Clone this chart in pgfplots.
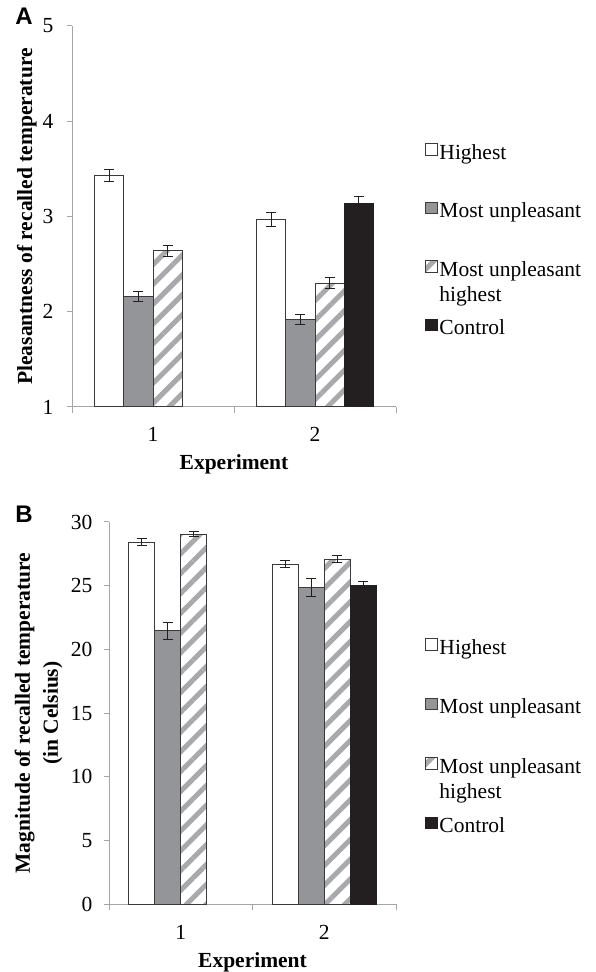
\documentclass[border=0pt]{standalone}
\usepackage{pgfplots}
\pgfplotsset{compat=1.18}
\usetikzlibrary{patterns.meta}
\usepackage{fontspec}
\setmainfont{Liberation Serif}
\newfontfamily\panelfont{Liberation Sans}
\definecolor{barGray}{HTML}{939598}
\definecolor{barBlack}{HTML}{231F20}
\definecolor{outl}{HTML}{3A3A3A}
\definecolor{hatchGray}{HTML}{A7A9AC}
\definecolor{axGray}{HTML}{A6A6A6}
\definecolor{errc}{HTML}{231F20}
\newcommand{\fs}{\fontsize{21.5bp}{25bp}\selectfont}
\pgfplotsset{
  common/.style={
    scale only axis,
    axis x line*=bottom, axis y line*=left,
    axis line style={-, draw=axGray, line width=1bp},
    tick align=outside,
    major tick length=5bp, minor tick length=6bp,
    tick style={draw=axGray, line width=1bp},
    major x tick style={draw=none},
    xmin=0.5, xmax=2.5, xtick={1,2}, xticklabels={1,2},
    minor xtick={0.5,1.5,2.5},
    tick label style={font=\fs},
    xticklabel style={yshift=-12bp},
    /pgf/number format/assume math mode=true,
    label style={font=\bfseries\fs},
    xlabel={Experiment},
    ybar, clip=true,
    legend cell align=left,
    legend image code/.code={\draw[##1, line width=0.8bp] (-3bp,-4bp) rectangle (8.5bp,7.5bp);},
    error bars/y dir=both, error bars/y explicit,
    error bars/error bar style={line width=1bp, draw=errc},
    error bars/error mark options={rotate=90, mark size=5bp, line width=1bp, draw=errc},
  },
  whitebar/.style={draw=outl, line width=1bp, fill=white},
  graybar/.style={draw=outl, line width=1bp, fill=barGray},
  hatchbar/.style={draw=outl, line width=1bp, pattern={Lines[angle=45,distance=14bp,line width=5bp]}, pattern color=hatchGray},
  blackbar/.style={draw=barBlack, line width=1bp, fill=barBlack},
}
\begin{document}
\begin{tikzpicture}
\useasboundingbox (0,0) rectangle (596bp,972bp);
% Panel A
\begin{axis}[common,
  at={(72bp,565bp)}, anchor=south west,
  width=324bp, height=381bp,
  ymin=1, ymax=5, ytick={1,2,3,4,5},
  yticklabel style={xshift=-10bp},
  bar width=29.3bp,
  ylabel={Pleasantness of recalled temperature},
  xlabel style={at={(axis description cs:0.5,-0.15)}, anchor=center},
  ylabel style={at={(axis description cs:-0.139,0.5)}, anchor=center},
  legend style={at={(axis description cs:1.0895,0.702)}, anchor=north west,
    draw=none, fill=none, inner sep=0pt, row sep=35.5bp, font=\fs},
]
\addplot[whitebar, bar shift=-43.9bp] coordinates {(1,3.43) +- (0,0.06) (2,2.97) +- (0,0.077)};
\addplot[graybar, bar shift=-14.65bp] coordinates {(1,2.16) +- (0,0.05) (2,1.92) +- (0,0.05)};
\addplot[hatchbar, bar shift=14.65bp] coordinates {(1,2.64) +- (0,0.055) (2,2.30) +- (0,0.06)};
\addplot[blackbar, bar shift=43.9bp] coordinates {(2,3.14) +- (0,0.07)};
\legend{\strut Highest, \strut Most unpleasant, \strut\smash{\begin{tabular}[t]{@{}l@{}}Most unpleasant\\highest\end{tabular}}, \strut Control}
\end{axis}
% Panel B
\begin{axis}[common,
  at={(109bp,67.7bp)}, anchor=south west,
  width=287bp, height=382.3bp,
  ymin=0, ymax=30, ytick={0,5,10,15,20,25,30},
  yticklabel style={xshift=-8bp},
  bar width=26bp,
  ylabel={Magnitude of recalled temperature\\(in Celsius)},
  xlabel style={at={(axis description cs:0.5,-0.153)}, anchor=center},
  ylabel style={at={(axis description cs:-0.245,0.5)}, anchor=center, align=center, font=\bfseries\fontsize{21.5bp}{28bp}\selectfont},
  legend style={at={(axis description cs:1.101,0.706)}, anchor=north west,
    draw=none, fill=none, inner sep=0pt, row sep=36.5bp, font=\fs},
]
\addplot[whitebar, bar shift=-39bp] coordinates {(1,28.43) +- (0,0.24) (2,26.69) +- (0,0.26)};
\addplot[graybar, bar shift=-13bp] coordinates {(1,21.45) +- (0,0.7) (2,24.85) +- (0,0.73)};
\addplot[hatchbar, bar shift=13bp] coordinates {(1,29.04) +- (0,0.2) (2,27.08) +- (0,0.29)};
\addplot[blackbar, bar shift=39bp] coordinates {(2,25.04) +- (0,0.31)};
\legend{\strut Highest, \strut Most unpleasant, \strut\smash{\begin{tabular}[t]{@{}l@{}}Most unpleasant\\highest\end{tabular}}, \strut Control}
\end{axis}
\node[font=\panelfont\bfseries\fontsize{24bp}{28bp}\selectfont, anchor=center] at (24bp,955.5bp) {A};
\node[font=\panelfont\bfseries\fontsize{24bp}{28bp}\selectfont, anchor=center] at (24bp,457.5bp) {B};
\end{tikzpicture}
\end{document}
